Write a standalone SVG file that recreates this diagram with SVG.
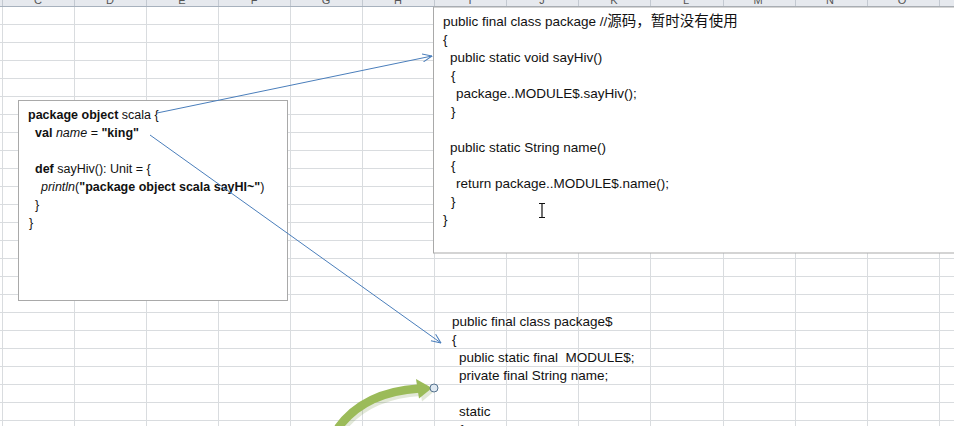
<svg xmlns="http://www.w3.org/2000/svg" width="954" height="426" viewBox="0 0 954 426">
<style>
.grid line{stroke:#d9dcdf;stroke-width:1}
.hdr{font-family:"Liberation Sans",Arial,sans-serif;font-size:11px;fill:#555;text-anchor:middle}
.box{fill:#fff;stroke:#a9a9a9;stroke-width:1}
.l{font-family:"Liberation Sans",Arial,sans-serif;font-size:12.5px;fill:#111;white-space:pre}
.r{font-family:"Liberation Sans","Noto Sans CJK SC",Arial,sans-serif;font-size:13.5px;fill:#111;white-space:pre}
.b{font-weight:bold}
.i{font-style:italic}
.blue{fill:none;stroke:#4a7ebb;stroke-width:1;marker-end:url(#arr)}
</style>
<defs>
<marker id="arr" viewBox="0 0 10 10" refX="9.5" refY="5" markerWidth="10" markerHeight="10" markerUnits="userSpaceOnUse" orient="auto">
<path d="M0,1 L9.5,5 L0,9" fill="none" stroke="#4a7ebb" stroke-width="1"/>
</marker>
</defs>
<rect width="954" height="426" fill="#fff"/>
<g id="grid" class="grid">
<line x1="0" y1="24.5" x2="954" y2="24.5"/><line x1="0" y1="42.5" x2="954" y2="42.5"/><line x1="0" y1="60.5" x2="954" y2="60.5"/><line x1="0" y1="78.5" x2="954" y2="78.5"/><line x1="0" y1="96.5" x2="954" y2="96.5"/><line x1="0" y1="114.5" x2="954" y2="114.5"/><line x1="0" y1="132.5" x2="954" y2="132.5"/><line x1="0" y1="150.5" x2="954" y2="150.5"/><line x1="0" y1="168.5" x2="954" y2="168.5"/><line x1="0" y1="186.5" x2="954" y2="186.5"/><line x1="0" y1="204.5" x2="954" y2="204.5"/><line x1="0" y1="222.5" x2="954" y2="222.5"/><line x1="0" y1="240.5" x2="954" y2="240.5"/><line x1="0" y1="258.5" x2="954" y2="258.5"/><line x1="0" y1="276.5" x2="954" y2="276.5"/><line x1="0" y1="294.5" x2="954" y2="294.5"/><line x1="0" y1="312.5" x2="954" y2="312.5"/><line x1="0" y1="330.5" x2="954" y2="330.5"/><line x1="0" y1="348.5" x2="954" y2="348.5"/><line x1="0" y1="366.5" x2="954" y2="366.5"/><line x1="0" y1="384.5" x2="954" y2="384.5"/><line x1="0" y1="402.5" x2="954" y2="402.5"/><line x1="0" y1="420.5" x2="954" y2="420.5"/>
<line x1="2.5" y1="6" x2="2.5" y2="426"/><line x1="74.5" y1="6" x2="74.5" y2="426"/><line x1="146.5" y1="6" x2="146.5" y2="426"/><line x1="218.5" y1="6" x2="218.5" y2="426"/><line x1="290.5" y1="6" x2="290.5" y2="426"/><line x1="362.5" y1="6" x2="362.5" y2="426"/><line x1="434.5" y1="6" x2="434.5" y2="426"/><line x1="506.5" y1="6" x2="506.5" y2="426"/><line x1="578.5" y1="6" x2="578.5" y2="426"/><line x1="650.5" y1="6" x2="650.5" y2="426"/><line x1="723.5" y1="6" x2="723.5" y2="426"/><line x1="795.5" y1="6" x2="795.5" y2="426"/><line x1="867.5" y1="6" x2="867.5" y2="426"/><line x1="939.5" y1="6" x2="939.5" y2="426"/>
</g>
<g id="header">
<rect x="0" y="0" width="954" height="6.5" fill="#e6e9ee"/>
<line x1="0" y1="6.5" x2="954" y2="6.5" stroke="#a7b1bd"/>
<g stroke="#c3c9d1"><line x1="2.5" y1="0" x2="2.5" y2="6"/><line x1="74.5" y1="0" x2="74.5" y2="6"/><line x1="146.5" y1="0" x2="146.5" y2="6"/><line x1="218.5" y1="0" x2="218.5" y2="6"/><line x1="290.5" y1="0" x2="290.5" y2="6"/><line x1="362.5" y1="0" x2="362.5" y2="6"/><line x1="434.5" y1="0" x2="434.5" y2="6"/><line x1="506.5" y1="0" x2="506.5" y2="6"/><line x1="578.5" y1="0" x2="578.5" y2="6"/><line x1="650.5" y1="0" x2="650.5" y2="6"/><line x1="723.5" y1="0" x2="723.5" y2="6"/><line x1="795.5" y1="0" x2="795.5" y2="6"/><line x1="867.5" y1="0" x2="867.5" y2="6"/><line x1="939.5" y1="0" x2="939.5" y2="6"/></g>
<text class="hdr" x="38" y="4">C</text><text class="hdr" x="110" y="4">D</text><text class="hdr" x="182" y="4">E</text><text class="hdr" x="254" y="4">F</text><text class="hdr" x="326" y="4">G</text><text class="hdr" x="398" y="4">H</text><text class="hdr" x="470" y="4">I</text><text class="hdr" x="542" y="4">J</text><text class="hdr" x="614" y="4">K</text><text class="hdr" x="686" y="4">L</text><text class="hdr" x="758" y="4">M</text><text class="hdr" x="830" y="4">N</text><text class="hdr" x="902" y="4">O</text>
</g>
<g id="node-scala">
<rect class="box" x="18.5" y="100.5" width="269" height="200"/>
<text class="l" x="28" y="119"><tspan class="b">package object</tspan> scala {</text>
<text class="l" x="35" y="137"><tspan class="b">val</tspan> <tspan class="i">name</tspan> = <tspan class="b">"king"</tspan></text>
<text class="l" x="35" y="173"><tspan class="b">def</tspan> sayHiv(): Unit = {</text>
<text class="l" x="41" y="191"><tspan class="i">println</tspan>(<tspan class="b">"package object scala sayHI~"</tspan>)</text>
<text class="l" x="35" y="209">}</text>
<text class="l" x="29" y="227">}</text>
</g>
<g id="node-package">
<rect class="box" x="433.5" y="7" width="530" height="246"/>
<text class="r" x="443" y="26">public final class package //<tspan font-size="14.5px">源码，暂时没有使用</tspan></text>
<text class="r" x="443" y="44">{</text>
<text class="r" x="450" y="62">public static void sayHiv()</text>
<text class="r" x="451" y="80">{</text>
<text class="r" x="456" y="98">package..MODULE$.sayHiv();</text>
<text class="r" x="451" y="116">}</text>
<text class="r" x="450" y="152">public static String name()</text>
<text class="r" x="451" y="170">{</text>
<text class="r" x="456" y="188">return package..MODULE$.name();</text>
<text class="r" x="451" y="206">}</text>
<text class="r" x="443" y="224">}</text>
<path id="cursor" d="M542,203.5 V217.5 M539,203.5 H545 M539,217.5 H545" fill="none" stroke="#111" stroke-width="1.2"/>
</g>
<g id="node-package-dollar">
<text class="r" x="452" y="326">public final class package$</text>
<text class="r" x="452" y="344">{</text>
<text class="r" x="459" y="362">public static final  MODULE$;</text>
<text class="r" x="459" y="380">private final String name;</text>
<text class="r" x="459" y="416">static</text>
<text class="r" x="459" y="434">{</text>
</g>
<g id="connectors">
<path class="blue" d="M157,113 L432,56"/>
<path class="blue" d="M150,135 L441,343"/>
<g id="green-arrow">
<path d="M340,428 Q366,393 420,390" fill="none" stroke="#6d8a3a" stroke-opacity="0.2" stroke-width="9" transform="translate(1,1.5)"/>
<polygon points="418,381 433,390 421,400" fill="#6d8a3a" fill-opacity="0.2" transform="translate(1,1.5)"/>
<path d="M338,428 Q364,392 419,388.5" fill="none" stroke="#9bbb59" stroke-width="8.5"/>
<polygon points="416,379 432,388 419,398.5" fill="#9bbb59"/>
</g>
<circle cx="434" cy="388" r="4" fill="#dfe9f2" stroke="#56738f" stroke-width="1"/>
</g>
</svg>
